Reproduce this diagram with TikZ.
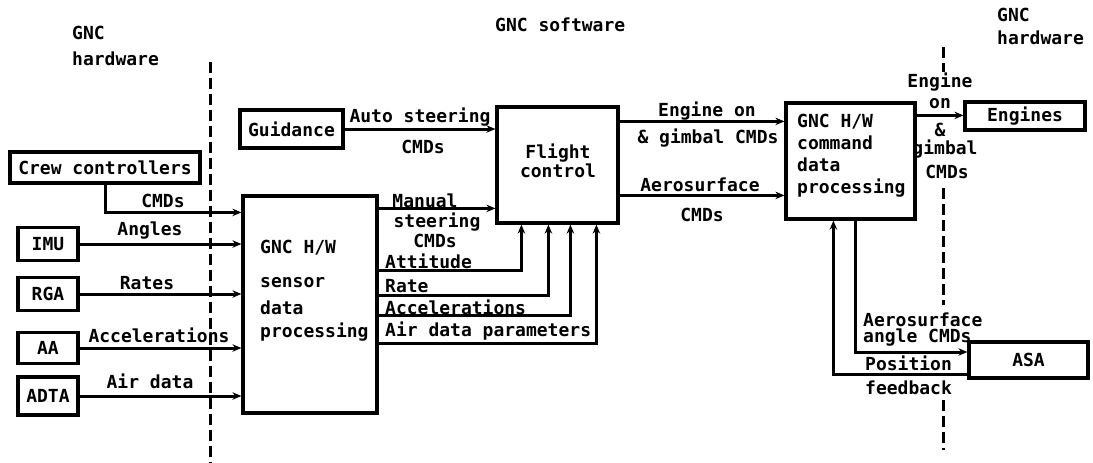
\documentclass[tikz,border=0pt]{standalone}
\usepackage{fontspec}
\setmainfont{DejaVu Sans Mono}
\usetikzlibrary{arrows.meta,calc}
\begin{document}
\begin{tikzpicture}[x=1pt,y=-1pt,
  font=\fontsize{18}{22}\selectfont\bfseries,
  box/.style={draw,line width=3.2pt,inner sep=0pt,rectangle},
  conn/.style={line width=3pt},
  arr/.style={conn,-{Stealth[length=9pt,width=7.5pt]}},
  lbl/.style={inner sep=0pt},
  div/.style={line width=3pt,dash pattern=on 11pt off 5pt}]
\useasboundingbox (0,0) rectangle (1093,463);

% headings
\node[lbl,anchor=west] (h1a) at (72,33) {GNC};
\node[lbl,anchor=west] (h1b) at (72,59) {hardware};
\node[lbl,anchor=west] (h2) at (495,25) {GNC software};
\node[lbl,anchor=west] (h3a) at (997,15) {GNC};
\node[lbl,anchor=west] (h3b) at (997,38) {hardware};

% dividers
\coordinate (d1t) at (210,62);
\coordinate (d1b) at (210,463);
\draw[div] (d1t) -- (d1b);
\coordinate (d2a) at (943,47);
\coordinate (d2b) at (943,72);
\coordinate (d2c) at (943,188);
\coordinate (d2d) at (943,305);
\coordinate (d2e) at (943,400);
\coordinate (d2f) at (943,450);
\draw[div] (d2a) -- (d2b);
\draw[div] (d2c) -- (d2d);
\draw[div] (d2e) -- (d2f);

% boxes
\node[box,minimum width=190pt,minimum height=31pt] (crew) at (105,167.5) {Crew controllers};
\node[box,minimum width=103pt,minimum height=38pt] (guid) at (291.5,129) {Guidance};
\node[box,minimum width=60pt,minimum height=33pt] (imu) at (48,244) {IMU};
\node[box,minimum width=60pt,minimum height=33pt] (rga) at (48,294) {RGA};
\node[box,minimum width=60pt,minimum height=31pt] (aa) at (48,348) {AA};
\node[box,minimum width=60pt,minimum height=38pt] (adta) at (48,396) {ADTA};
\node[box,minimum width=134pt,minimum height=217pt] (sensor) at (310,304.5) {};
\node[box,minimum width=121pt,minimum height=116pt] (flight) at (557.5,165) {};
\node[box,minimum width=129pt,minimum height=116pt] (cmd) at (850.5,161) {};
\node[box,minimum width=120pt,minimum height=28pt] (engines) at (1025,116) {Engines};
\node[box,minimum width=119pt,minimum height=36pt] (asa) at (1028.5,360) {ASA};

% box texts
\node[lbl,anchor=west] (st1) at (260,248) {GNC H/W};
\node[lbl,anchor=west] (st2) at (260,283) {sensor};
\node[lbl,anchor=west] (st3) at (260,308) {data};
\node[lbl,anchor=west] (st4) at (260,332) {processing};
\node[lbl,align=center,font=\fontsize{18}{16}\selectfont\bfseries] (ft) at (558,161) {Flight\\control};
\node[lbl,align=left,anchor=west] (ct) at (797,156) {GNC H/W\\command\\data\\processing};

% left inputs
\coordinate (cin) at ([yshift=-18pt]sensor.north west);
\draw[arr] (crew.south) |- (cin);
\draw[arr] (imu.east) -- (imu.east -| sensor.west);
\draw[arr] (rga.east) -- (rga.east -| sensor.west);
\draw[arr] (aa.east) -- (aa.east -| sensor.west);
\draw[arr] (adta.east) -- (adta.east -| sensor.west);
\node[lbl] (l1) at (163,201) {CMDs};
\node[lbl] (l2) at (150,231) {Angles};
\node[lbl] (l3) at (147,283) {Rates};
\node[lbl] (l4) at (159,335) {Accelerations};
\node[lbl] (l5) at (150,381) {Air data};

% guidance
\draw[arr] (guid.east) -- (guid.east -| flight.west);
\node[lbl] (l6) at (420,117) {Auto steering};
\node[lbl] (l7) at (423,147) {CMDs};

% sensor outputs
\coordinate (m1) at ([yshift=-14pt]sensor.north east);
\draw[arr] (m1) -- (m1 -| flight.west);
\node[lbl] (l8) at (425,201) {Manual};
\node[lbl] (l9) at (437,222) {steering};
\node[lbl] (l10) at (435,241) {CMDs};
\coordinate (s1) at ([yshift=-76pt]sensor.north east);
\coordinate (f1) at ([xshift=26pt]flight.south west);
\draw[arr] (s1) -| (f1);
\coordinate (s2) at ([yshift=-101pt]sensor.north east);
\coordinate (f2) at ([xshift=53pt]flight.south west);
\draw[arr] (s2) -| (f2);
\coordinate (s3) at ([yshift=-121pt]sensor.north east);
\coordinate (f3) at ([xshift=75pt]flight.south west);
\draw[arr] (s3) -| (f3);
\coordinate (s4) at ([yshift=-149pt]sensor.north east);
\coordinate (f4) at ([xshift=101pt]flight.south west);
\draw[arr] (s4) -| (f4);
\node[lbl,anchor=west] (l11) at (385,261) {Attitude};
\node[lbl,anchor=west] (l12) at (385,286) {Rate};
\node[lbl,anchor=west] (l13) at (385,307) {Accelerations};
\node[lbl,anchor=west] (l14) at (385,331) {Air data parameters};

% flight control to command processing
\coordinate (e1) at ([yshift=-16pt]flight.north east);
\draw[arr] (e1) -- (e1 -| cmd.west);
\coordinate (e2) at ([yshift=-90pt]flight.north east);
\draw[arr] (e2) -- (e2 -| cmd.west);
\node[lbl] (l15) at (707,111) {Engine on};
\node[lbl] (l16) at (708,138) {\& gimbal CMDs};
\node[lbl] (l17) at (700,185) {Aerosurface};
\node[lbl] (l18) at (702,215) {CMDs};

% command processing to engines
\coordinate (c1) at ([yshift=-14pt]cmd.north east);
\draw[arr] (c1) -- (c1 -| engines.west);
\node[lbl] (l19) at (940,82) {Engine};
\node[lbl] (l20) at (940,104) {on};
\node[lbl] (l21) at (940,130) {\&};
\node[lbl] (l22) at (945,149) {gimbal};
\node[lbl] (l23) at (947,172) {CMDs};

% command processing <-> ASA
\coordinate (c2) at ([xshift=71pt]cmd.south west);
\coordinate (a1) at ([yshift=8pt]asa.west);
\draw[arr] (c2) |- (a1);
\coordinate (a2) at ([yshift=-14pt]asa.west);
\coordinate (c3) at ([xshift=49pt]cmd.south west);
\draw[arr] (a2) -| (c3);
\node[lbl,anchor=west] (l24) at (863,320) {Aerosurface};
\node[lbl,anchor=west] (l25) at (863,338) {angle CMDs};
\node[lbl,anchor=west] (l26) at (865,363) {Position};
\node[lbl,anchor=west] (l27) at (865,388) {feedback};
\end{tikzpicture}
\end{document}
